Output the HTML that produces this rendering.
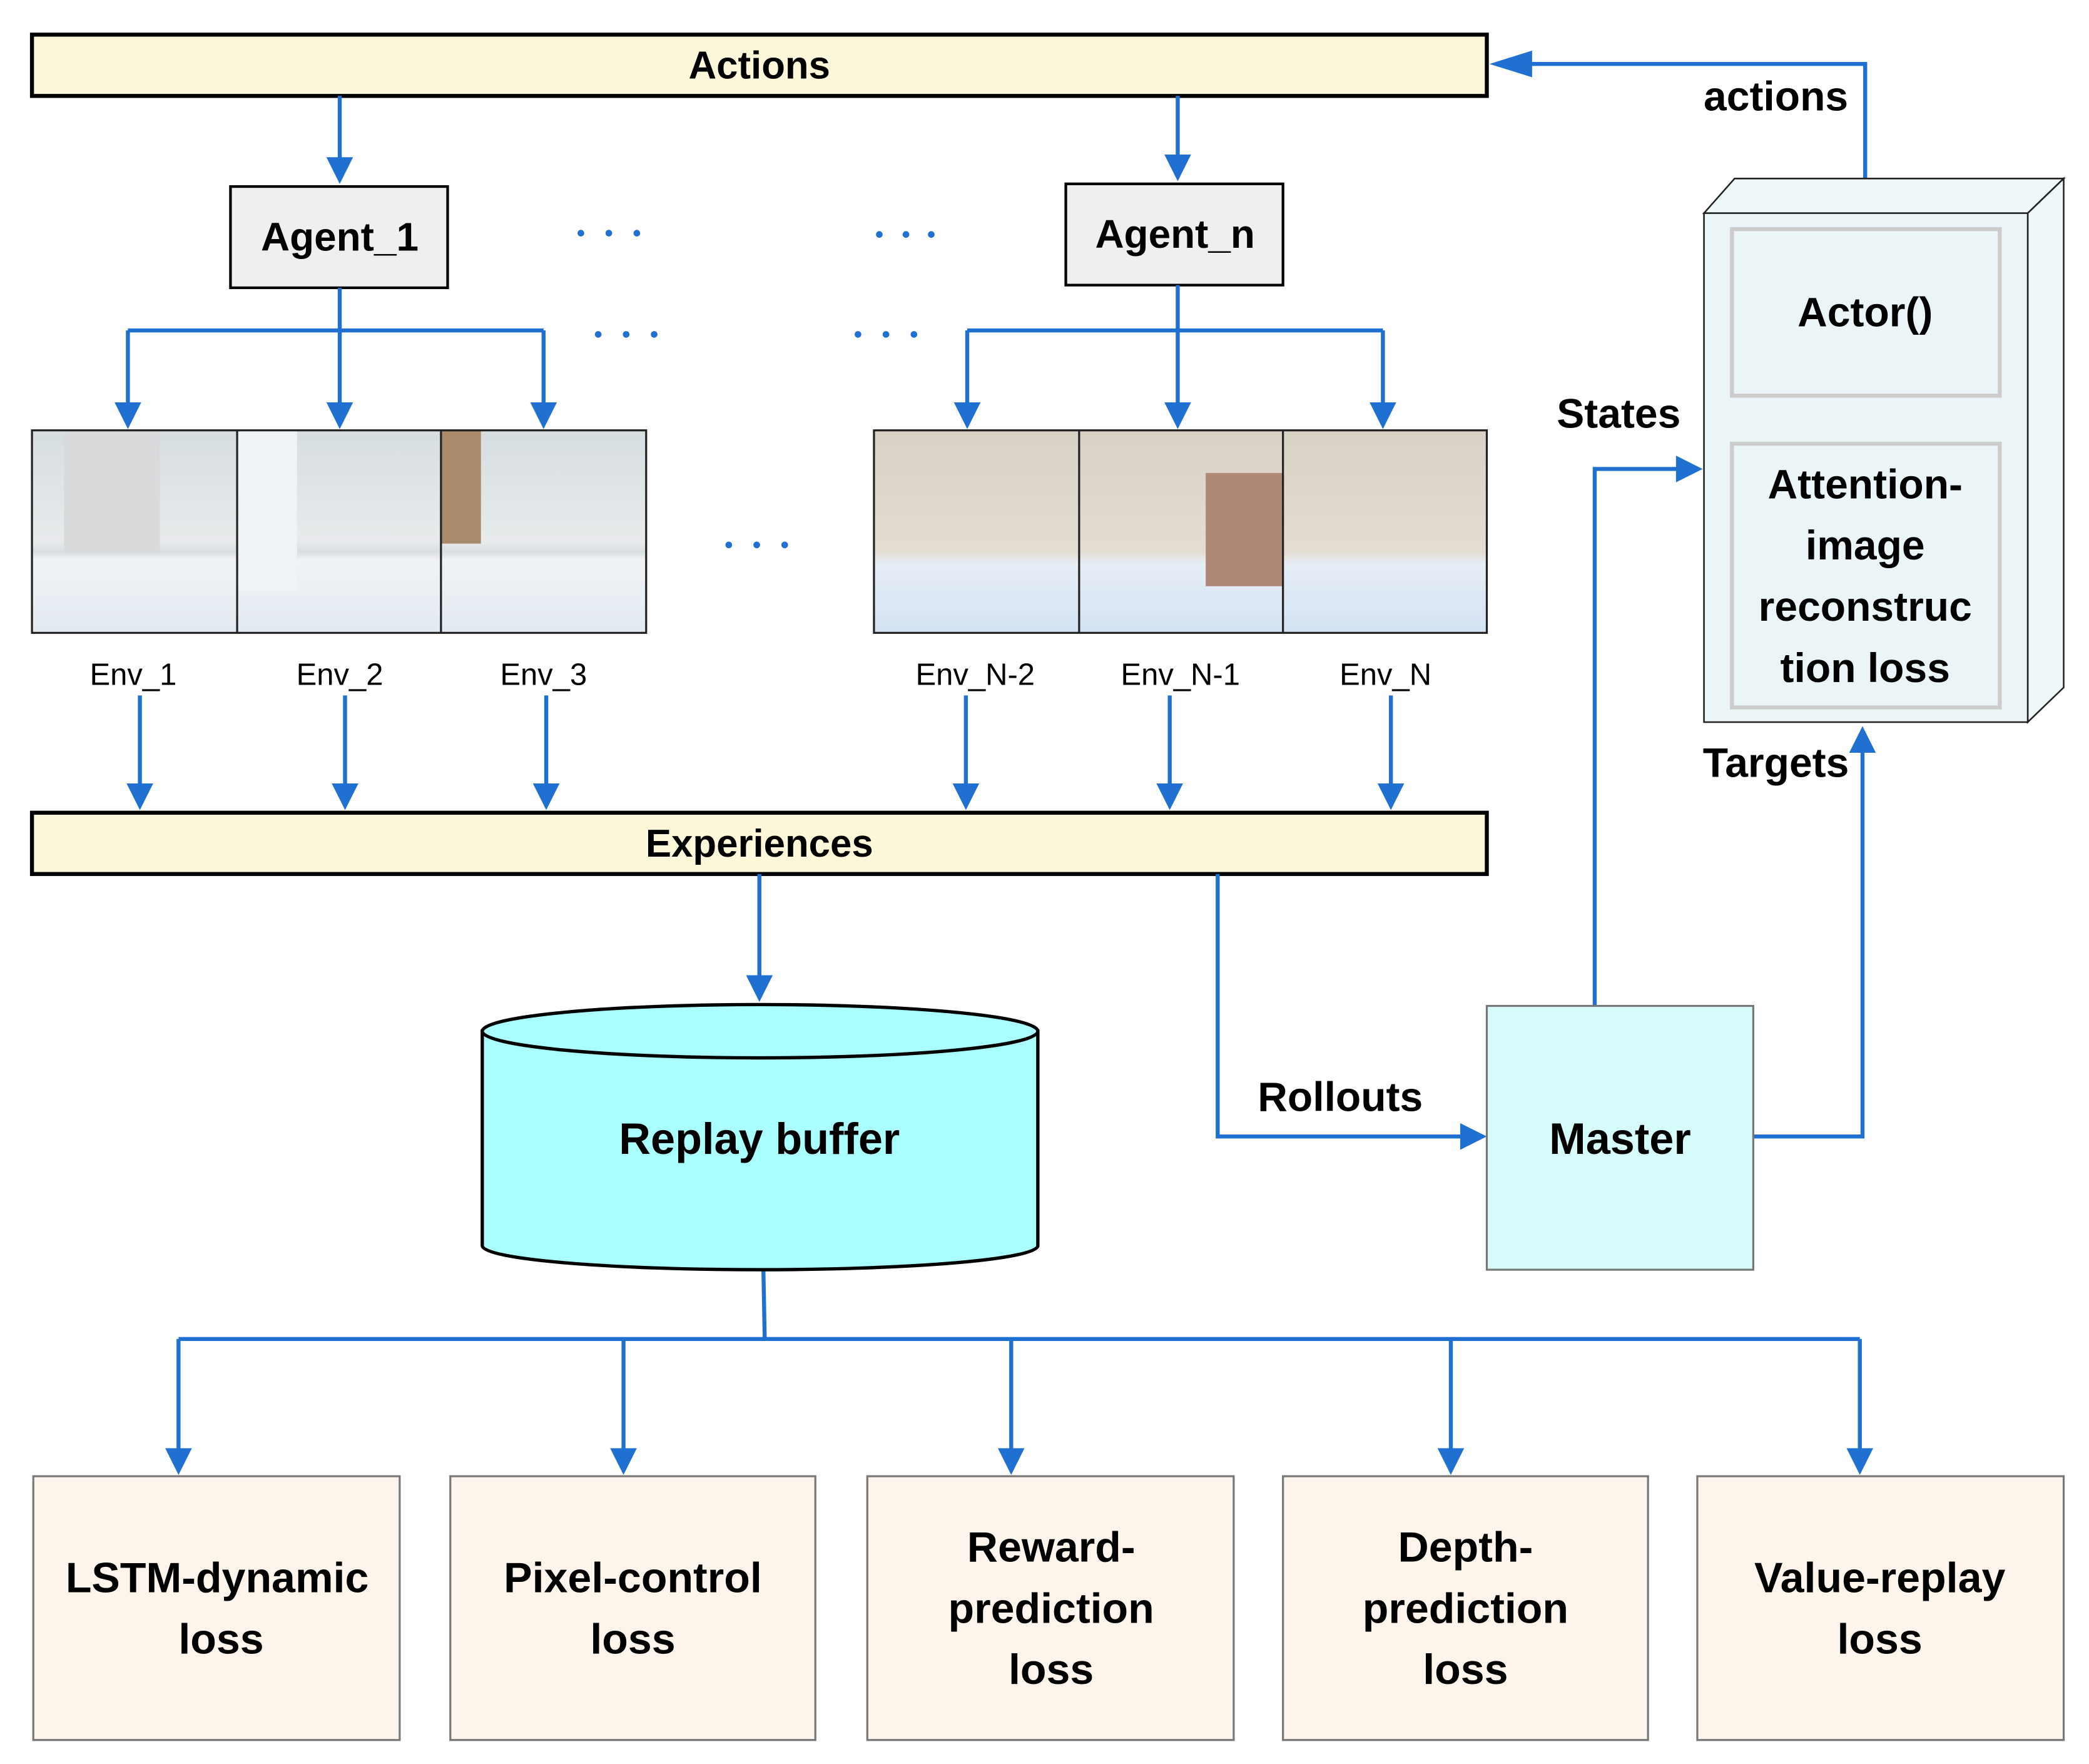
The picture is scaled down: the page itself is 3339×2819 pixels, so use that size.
<!DOCTYPE html>
<html><head><meta charset="utf-8"><style>
html,body{margin:0;padding:0;background:#fff;}
svg{display:block;}
text{font-family:"Liberation Sans",sans-serif;font-weight:bold;fill:#000;text-anchor:middle;}
.env{font-weight:normal;font-size:23px;}
.ln{stroke:#1f70d0;stroke-width:3;fill:none;}
</style></head><body>
<svg width="3339" height="2819" viewBox="0 0 1568 1324" preserveAspectRatio="none" xmlns="http://www.w3.org/2000/svg">
<defs>
<linearGradient id="wall" x1="0" y1="0" x2="0" y2="1">
<stop offset="0" stop-color="#d6dde0"/><stop offset="0.55" stop-color="#e8ebec"/><stop offset="0.6" stop-color="#d8dde0"/><stop offset="0.64" stop-color="#f0f3f5"/><stop offset="1" stop-color="#e2eaf1"/>
</linearGradient>
<linearGradient id="wall2" x1="0" y1="0" x2="0" y2="1">
<stop offset="0" stop-color="#d8d2c6"/><stop offset="0.6" stop-color="#e3ddd2"/><stop offset="0.66" stop-color="#e6eef6"/><stop offset="1" stop-color="#d4e2f3"/>
</linearGradient>
</defs>

<rect x="24" y="26" width="1092" height="46" fill="#fdf7d9" stroke="#000" stroke-width="3"/>
<text x="570" y="59" font-size="29">Actions</text>
<rect x="24" y="610" width="1092" height="46" fill="#fdf7d9" stroke="#000" stroke-width="3"/>
<text x="570" y="643" font-size="29">Experiences</text>

<rect x="173" y="140" width="163" height="76" fill="#efefef" stroke="#000" stroke-width="2"/>
<text x="255" y="188" font-size="30">Agent_1</text>
<rect x="800" y="138" width="163" height="76" fill="#efefef" stroke="#000" stroke-width="2"/>
<text x="882" y="186" font-size="30">Agent_n</text>

<g fill="#1f70d0">
<circle cx="436" cy="175" r="2.5"/><circle cx="457" cy="175" r="2.5"/><circle cx="478" cy="175" r="2.5"/>
<circle cx="660" cy="176" r="2.5"/><circle cx="680" cy="176" r="2.5"/><circle cx="699" cy="176" r="2.5"/>
<circle cx="449" cy="251" r="2.5"/><circle cx="470" cy="251" r="2.5"/><circle cx="491" cy="251" r="2.5"/>
<circle cx="644" cy="251" r="2.5"/><circle cx="665" cy="251" r="2.5"/><circle cx="686" cy="251" r="2.5"/>
<circle cx="547" cy="409" r="2.5"/><circle cx="568" cy="409" r="2.5"/><circle cx="589" cy="409" r="2.5"/>
</g>

<rect x="24" y="323" width="154" height="152" fill="url(#wall)"/>
<rect x="48" y="323" width="72" height="92" fill="#d8dadb"/>
<rect x="178" y="323" width="153" height="152" fill="url(#wall)"/>
<rect x="178" y="323" width="45" height="120" fill="#eef3f6"/>
<rect x="331" y="323" width="154" height="152" fill="url(#wall)"/>
<rect x="331" y="323" width="30" height="85" fill="#a98a6a"/>
<rect x="656" y="323" width="154" height="152" fill="url(#wall2)"/>
<rect x="810" y="323" width="153" height="152" fill="url(#wall2)"/>
<rect x="905" y="355" width="58" height="85" fill="#b08878"/>
<rect x="963" y="323" width="153" height="152" fill="url(#wall2)"/>
<rect x="24" y="323" width="461" height="152" fill="none" stroke="#222" stroke-width="1.5"/>
<line x1="178" y1="323" x2="178" y2="475" stroke="#222" stroke-width="1.5"/>
<line x1="331" y1="323" x2="331" y2="475" stroke="#222" stroke-width="1.5"/>
<rect x="656" y="323" width="460" height="152" fill="none" stroke="#222" stroke-width="1.5"/>
<line x1="810" y1="323" x2="810" y2="475" stroke="#222" stroke-width="1.5"/>
<line x1="963" y1="323" x2="963" y2="475" stroke="#222" stroke-width="1.5"/>

<text class="env" x="100" y="514">Env_1</text>
<text class="env" x="255" y="514">Env_2</text>
<text class="env" x="408" y="514">Env_3</text>
<text class="env" x="732" y="514">Env_N-2</text>
<text class="env" x="886" y="514">Env_N-1</text>
<text class="env" x="1040" y="514">Env_N</text>

<g class="ln">
<path d="M255 72V120"/><path d="M884 72V118"/>
<path d="M255 216V248M96 248H408M96 248V304M255 248V304M408 248V304"/>
<path d="M884 214V248M726 248H1038M726 248V304M884 248V304M1038 248V304"/>
<path d="M105 522V590M259 522V590M410 522V590M725 522V590M878 522V590M1044 522V590"/>
<path d="M570 656V734"/>
<path d="M914 656V853H1098"/>
<path d="M1197 755V352H1260"/>
<path d="M1316 853H1398V563"/>
<path d="M1400 134V48H1136"/>
<path d="M573 953L574 1005M134 1005H1396M134 1005V1089M468 1005V1089M759 1005V1089M1089 1005V1089M1396 1005V1089"/>
</g>
<g fill="#1f70d0">
<path d="M245 118h20l-10 20z"/><path d="M874 116h20l-10 20z"/>
<path d="M86 302h20l-10 20z"/><path d="M245 302h20l-10 20z"/><path d="M398 302h20l-10 20z"/>
<path d="M716 302h20l-10 20z"/><path d="M874 302h20l-10 20z"/><path d="M1028 302h20l-10 20z"/>
<path d="M95 588h20l-10 20z"/><path d="M249 588h20l-10 20z"/><path d="M400 588h20l-10 20z"/>
<path d="M715 588h20l-10 20z"/><path d="M868 588h20l-10 20z"/><path d="M1034 588h20l-10 20z"/>
<path d="M560 732h20l-10 20z"/>
<path d="M1096 843v20l20-10z"/>
<path d="M1258 342v20l20-10z"/>
<path d="M1388 565h20l-10-20z"/>
<path d="M1150 38v20l-32-10z"/>
<path d="M124 1087h20l-10 20z"/><path d="M458 1087h20l-10 20z"/><path d="M749 1087h20l-10 20z"/><path d="M1079 1087h20l-10 20z"/><path d="M1386 1087h20l-10 20z"/>
</g>

<path d="M362 774 V935 A208.5 18 0 0 0 779 935 V774 Z" fill="#aaffff" stroke="#000" stroke-width="2.5"/>
<ellipse cx="570.5" cy="774" rx="208.5" ry="20" fill="#aaffff" stroke="#000" stroke-width="2.5"/>
<text x="570" y="866" font-size="33">Replay buffer</text>

<text x="1006" y="834" font-size="31">Rollouts</text>
<rect x="1116" y="755" width="200" height="198" fill="#d5fbfb" stroke="#777" stroke-width="1.5"/>
<text x="1216" y="866" font-size="33">Master</text>

<text x="1215" y="321" font-size="31">States</text>
<text x="1333" y="583" font-size="31">Targets</text>
<text x="1333" y="83" font-size="31">actions</text>

<polygon points="1279,160 1302,134 1549,134 1522,160" fill="#eef8f8" stroke="#222" stroke-width="1.2"/>
<polygon points="1522,160 1549,134 1549,516 1522,542" fill="#eef8f8" stroke="#222" stroke-width="1.2"/>
<rect x="1279" y="160" width="243" height="382" fill="#ebf5f8" stroke="#222" stroke-width="1.2"/>
<rect x="1300" y="172" width="201" height="125" fill="none" stroke="#ccc" stroke-width="3"/>
<text x="1400" y="245" font-size="31">Actor()</text>
<rect x="1300" y="333" width="201" height="198" fill="none" stroke="#ccc" stroke-width="3"/>
<text x="1400" y="374" font-size="31">Attention-</text>
<text x="1400" y="420" font-size="31">image</text>
<text x="1400" y="466" font-size="31">reconstruc</text>
<text x="1400" y="512" font-size="31">tion loss</text>

<g fill="#fdf5eb" stroke="#777" stroke-width="1.5">
<rect x="25" y="1108" width="275" height="198"/>
<rect x="338" y="1108" width="274" height="198"/>
<rect x="651" y="1108" width="275" height="198"/>
<rect x="963" y="1108" width="274" height="198"/>
<rect x="1274" y="1108" width="275" height="198"/>
</g>
<g font-size="32">
<text x="163" y="1195">LSTM-dynamic</text><text x="166" y="1241">loss</text>
<text x="475" y="1195">Pixel-control</text><text x="475" y="1241">loss</text>
<text x="789" y="1172">Reward-</text><text x="789" y="1218">prediction</text><text x="789" y="1264">loss</text>
<text x="1100" y="1172">Depth-</text><text x="1100" y="1218">prediction</text><text x="1100" y="1264">loss</text>
<text x="1411" y="1195">Value-replay</text><text x="1411" y="1241">loss</text>
</g>
</svg>
</body></html>
